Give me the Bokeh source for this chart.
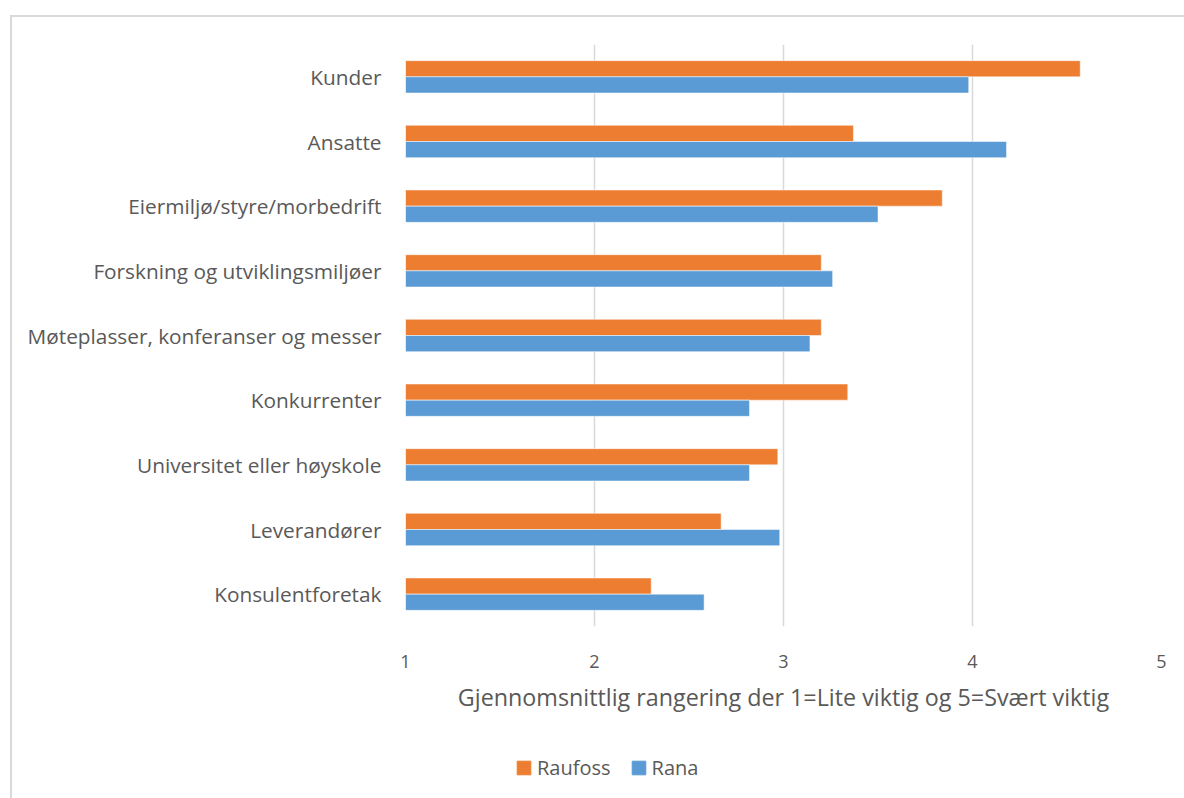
from bokeh.plotting import figure
from bokeh.models import FactorRange, Legend, LegendItem, FixedTicker, ColumnDataSource
from bokeh.layouts import column
from bokeh.transform import dodge
from bokeh.embed import file_html
from bokeh.resources import INLINE

categories = ["Kunder", "Ansatte", "Eiermiljø/styre/morbedrift", "Forskning og utviklingsmiljøer",
              "Møteplasser, konferanser og messer", "Konkurrenter", "Universitet eller høyskole",
              "Leverandører", "Konsulentforetak"]
raufoss = [4.57, 3.37, 3.84, 3.20, 3.20, 3.34, 2.97, 2.67, 2.30]
rana = [3.98, 4.18, 3.50, 3.26, 3.14, 2.82, 2.82, 2.98, 2.58]
x_ticks = [1, 2, 3, 4, 5]
series_names = ["Raufoss", "Rana"]
colors = ["#ED7D31", "#5B9BD5"]

FONT = "Open Sans"
TXT = "#595959"

src = ColumnDataSource(dict(cat=categories, raufoss=raufoss, rana=rana))

OX, OY = 12, 17       # page offset of the canvas (margin + border)
SPLIT = 730           # page y where the legend strip begins
W = 1184 - OX
FL = 405 - OX         # frame left inside the canvas

p = figure(width=W, height=SPLIT - OY, output_backend="svg", toolbar_location=None,
           y_range=FactorRange(factors=list(reversed(categories))),
           x_range=(1, 5), min_border_left=FL, min_border_right=23,
           min_border_top=44 - OY, min_border_bottom=SPLIT - 626)

r1 = p.hbar(y=dodge("cat", 0.125, range=p.y_range), right="raufoss", left=1, height=0.25,
            source=src, fill_color=colors[0], line_color="white", line_width=0.5)
r2 = p.hbar(y=dodge("cat", -0.125, range=p.y_range), right="rana", left=1, height=0.25,
            source=src, fill_color=colors[1], line_color="white", line_width=0.5)

p.outline_line_color = None
p.background_fill_color = "white"
p.border_fill_color = "white"

p.ygrid.grid_line_color = None
p.xgrid.grid_line_color = "#d9d9d9"
p.xgrid.grid_line_width = 1.5
p.xaxis.ticker = FixedTicker(ticks=x_ticks)

p.xaxis.axis_line_color = None
p.xaxis.major_tick_line_color = None
p.xaxis.minor_tick_line_color = None
p.xaxis.major_label_text_font = FONT
p.xaxis.major_label_text_font_size = "18px"
p.xaxis.major_label_text_color = TXT
p.xaxis.major_label_standoff = 22
p.xaxis.axis_label = "Gjennomsnittlig rangering der 1=Lite viktig og 5=Svært viktig"
p.xaxis.axis_label_text_font = FONT
p.xaxis.axis_label_text_font_size = "23.3px"
p.xaxis.axis_label_text_font_style = "normal"
p.xaxis.axis_label_text_color = TXT
p.xaxis.axis_label_standoff = 10

p.yaxis.axis_line_color = None
p.yaxis.major_tick_line_color = None
p.yaxis.minor_tick_line_color = None
p.yaxis.major_label_text_font = FONT
p.yaxis.major_label_text_font_size = "20.8px"
p.yaxis.major_label_text_color = TXT
p.yaxis.major_label_standoff = 18

# legend strip (its frame is aligned with the main frame by the column layout)
LH = 798 - SPLIT
lf = figure(width=W, height=LH, output_backend="svg", toolbar_location=None,
            x_range=(0, 1), y_range=(0, 1), min_border=0)
lf.axis.visible = False
lf.grid.grid_line_color = None
lf.outline_line_color = None
lf.border_fill_color = "white"
# off-range swatches only used to draw the legend glyphs
l1 = lf.vbar(x=[-10], top=[-10], bottom=-11, width=0.1, fill_color=colors[0], line_color=colors[0])
l2 = lf.vbar(x=[-10], top=[-10], bottom=-11, width=0.1, fill_color=colors[1], line_color=colors[1])
legend = Legend(items=[LegendItem(label=series_names[0], renderers=[l1]),
                       LegendItem(label=series_names[1], renderers=[l2])],
                orientation="horizontal", location=(110, 17),
                glyph_width=17, glyph_height=17, label_standoff=5, spacing=19,
                padding=0, margin=0, border_line_color=None, background_fill_alpha=0,
                label_text_font=FONT, label_text_font_size="20px", label_text_color=TXT)
lf.add_layout(legend, "center")

layout = column(p, lf, spacing=0)
layout.styles = {"margin-left": "10px", "margin-top": "15px",
                 "border-left": "2px solid #d9d9d9", "border-top": "2px solid #d9d9d9"}

open("out.html", "w").write(file_html(layout, INLINE))
